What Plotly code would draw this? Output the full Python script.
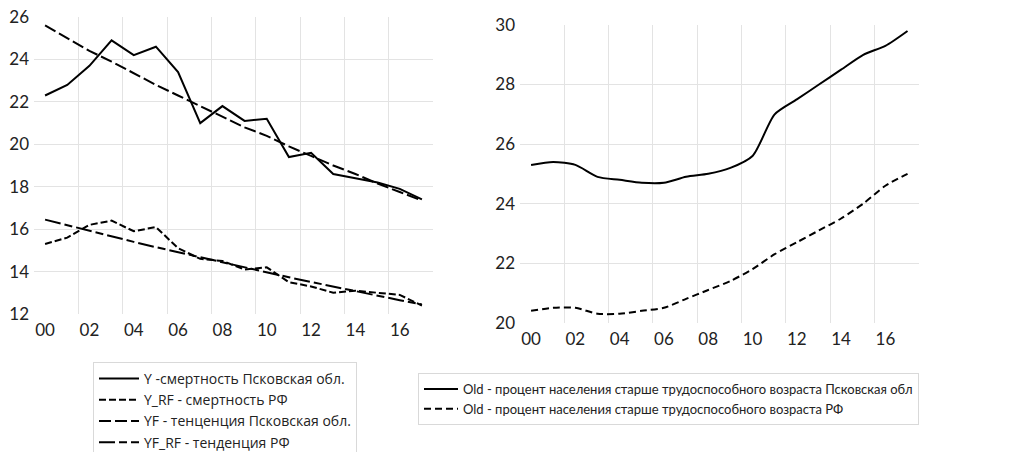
import plotly.graph_objects as go

years = list(range(18))
year_labels = ["00", "02", "04", "06", "08", "10", "12", "14", "16"]
label_pos = [0, 2, 4, 6, 8, 10, 12, 14, 16]

y_pskov = [22.3, 22.8, 23.7, 24.9, 24.2, 24.6, 23.4, 21.0, 21.8, 21.1, 21.2, 19.4, 19.6, 18.6, 18.4, 18.2, 17.9, 17.4]
y_rf = [15.3, 15.6, 16.2, 16.4, 15.9, 16.1, 15.1, 14.6, 14.5, 14.1, 14.2, 13.5, 13.3, 13.0, 13.1, 13.0, 12.9, 12.4]
yf_pskov = [25.6, 25.0, 24.4, 23.9, 23.35, 22.8, 22.3, 21.8, 21.3, 20.8, 20.4, 19.9, 19.45, 19.0, 18.6, 18.15, 17.75, 17.35]
yf_rf = [16.45, 16.18, 15.92, 15.66, 15.40, 15.15, 14.91, 14.67, 14.43, 14.19, 13.96, 13.73, 13.51, 13.29, 13.07, 12.86, 12.65, 12.45]

old_pskov = [25.3, 25.4, 25.3, 24.9, 24.8, 24.7, 24.7, 24.9, 25.0, 25.2, 25.6, 27.0, 27.5, 28.0, 28.5, 29.0, 29.3, 29.8]
old_rf = [20.4, 20.5, 20.5, 20.3, 20.3, 20.4, 20.5, 20.8, 21.1, 21.4, 21.8, 22.3, 22.7, 23.1, 23.5, 24.0, 24.6, 25.0]

names_left = ["Y -смертность Псковская обл.", "Y_RF - смертность РФ",
              "YF - тенценция Псковская обл.", "YF_RF - тенденция РФ"]
names_right = ["Old - процент населения старше трудоспособного возраста Псковская обл",
               "Old - процент населения старше трудоспособного возраста РФ"]

FONT = "Lato"
GRID = "#e3e3e3"

fig = go.Figure()
left_series = [(y_pskov, "solid"), (y_rf, "7px,3px"), (yf_pskov, "12px,4px"), (yf_rf, "16px,4px,8px,4px")]
for (vals, dash), nm in zip(left_series, names_left):
    fig.add_trace(go.Scatter(x=years, y=vals, name=nm, mode="lines",
                             line=dict(color="black", width=2, dash=dash),
                             xaxis="x", yaxis="y", legend="legend"))

right_series = [(old_pskov, "solid"), (old_rf, "7px,4px")]
for (vals, dash), nm in zip(right_series, names_right):
    fig.add_trace(go.Scatter(x=years, y=vals, name=nm, mode="lines",
                             line=dict(color="black", width=2, dash=dash, shape="spline", smoothing=0.7),
                             xaxis="x2", yaxis="y2", legend="legend2"))

minor_grid = [1.5, 3.5, 5.5, 7.5, 9.5, 11.5, 13.5, 15.5]

def xaxis(domain, anchor, standoff):
    return dict(domain=domain, anchor=anchor, range=[-0.5, 17.5], tickmode="array",
                tickvals=label_pos, ticktext=year_labels, showgrid=False, zeroline=False,
                showline=False, ticks="", automargin=False, ticklabelstandoff=standoff,
                tickfont=dict(family=FONT, size=17, color="#222"),
                minor=dict(tickmode="array", tickvals=minor_grid, showgrid=True,
                           gridcolor=GRID, gridwidth=1, ticks=""))

def yaxis(domain, anchor, rng, vals, grid):
    return dict(domain=domain, anchor=anchor, range=rng, tickvals=vals, showgrid=False,
                zeroline=False, ticks="", automargin=False, ticklabelstandoff=4,
                tickfont=dict(family=FONT, size=17, color="#222"),
                minor=dict(tickmode="array", tickvals=grid, showgrid=True,
                           gridcolor=GRID, gridwidth=1, ticks=""))

fig.update_layout(
    width=1020, height=452, margin=dict(l=0, r=0, t=0, b=0, autoexpand=False),
    paper_bgcolor="white", plot_bgcolor="white", showlegend=True,
    xaxis=xaxis([34/1020, 433/1020], "y", 4),
    xaxis2=xaxis([520/1020, 918.6/1020], "y2", 4),
    yaxis=yaxis([1-314/452, 1-17/452], "x", [12, 26], [12, 14, 16, 18, 20, 22, 24, 26],
                [14, 16, 18, 20, 22, 24]),
    yaxis2=yaxis([1-322.7/452, 1-25/452], "x2", [20, 30], [20, 22, 24, 26, 28, 30],
                 [22, 24, 26, 28]),
    legend=dict(x=93/1020, y=1-362/452, xanchor="left", yanchor="top",
                bordercolor="#d9d9d9", borderwidth=1, bgcolor="white", itemwidth=40,
                font=dict(family="Open Sans", size=14, color="#222"), tracegroupgap=0),
    legend2=dict(x=418/1020, y=1-373/452, xanchor="left", yanchor="top",
                 bordercolor="#d9d9d9", borderwidth=1, bgcolor="white", itemwidth=34,
                 font=dict(family=FONT, size=13, color="#222"), tracegroupgap=0),
)

fig.write_html("out.html", config={"displayModeBar": False},
               post_script="document.body.style.margin='0';document.body.style.padding='0';")
